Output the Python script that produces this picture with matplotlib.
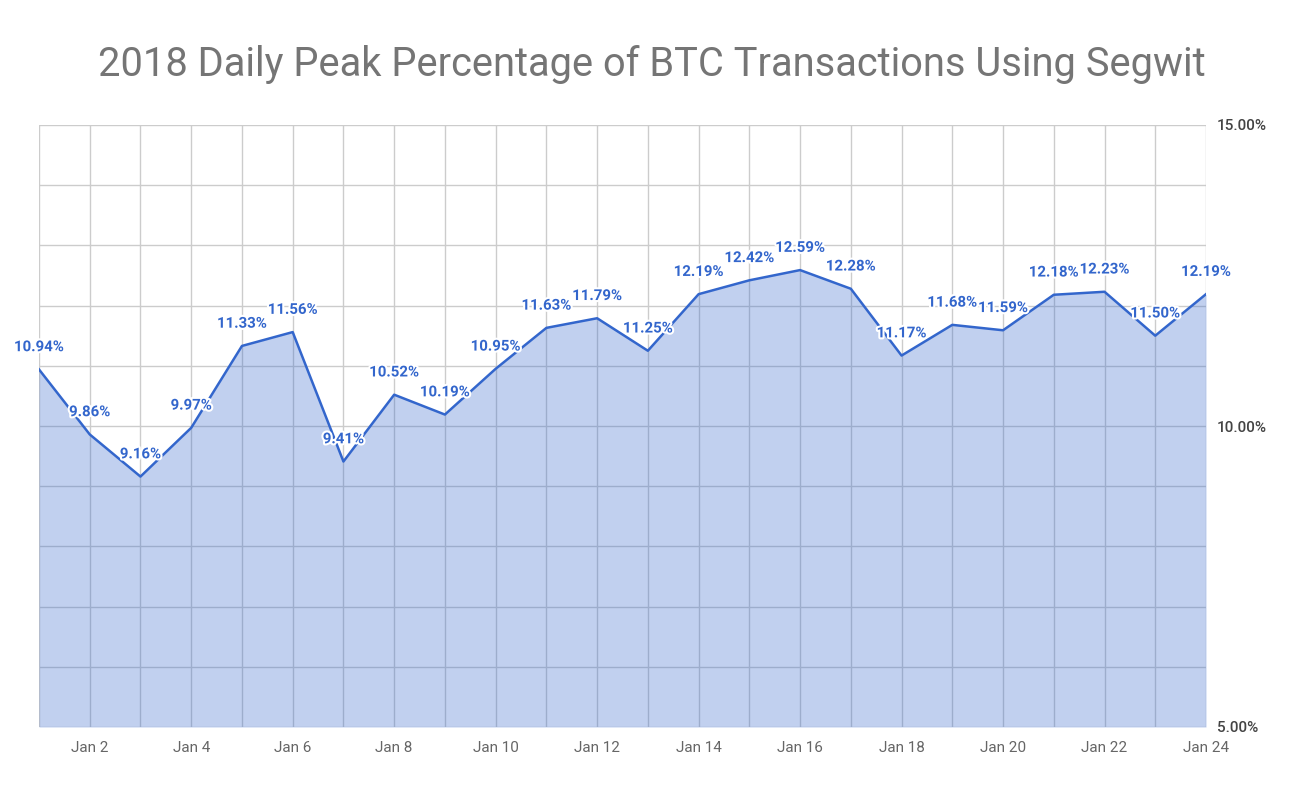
import matplotlib.pyplot as plt
from matplotlib import patheffects as pe

plt.rcParams['font.family'] = ['Roboto', 'DejaVu Sans']

# Datos: pico diario de porcentaje de transacciones Segwit, enero 2018
days = list(range(1, 25))
values = [10.94, 9.86, 9.16, 9.97, 11.33, 11.56, 9.41, 10.52, 10.19, 10.95,
          11.63, 11.79, 11.25, 12.19, 12.42, 12.59, 12.28, 11.17, 11.68, 11.59,
          12.18, 12.23, 11.50, 12.19]
tick_days = list(range(2, 25, 2))
tick_labels = [f"Jan {d}" for d in tick_days]
y_ticks = [5, 10, 15]
y_tick_labels = ["5.00%", "10.00%", "15.00%"]

line_color = '#3366cc'

fig = plt.figure(figsize=(13.04, 7.95), dpi=100)
ax = fig.add_axes([39 / 1304, 1 - 727 / 795, (1206 - 39) / 1304, (727 - 125) / 795])

ax.fill_between(days, values, 5, color=line_color, alpha=0.3, linewidth=0, zorder=2)
ax.plot(days, values, color=line_color, linewidth=1.8, zorder=3)

for d, v in zip(days, values):
    ax.annotate(f"{v:.2f}%", (d, v), xytext=(0, 16), textcoords='offset points',
                ha='center', va='center', fontsize=10.8, fontweight='bold',
                color=line_color, zorder=4,
                path_effects=[pe.withStroke(linewidth=3, foreground='white')])

ax.set_xlim(1, 24)
ax.set_ylim(5, 15)
ax.set_xticks(days, minor=True)
ax.set_xticks(tick_days)
ax.set_xticklabels(tick_labels)
ax.set_yticks(range(5, 16), minor=True)
ax.set_yticks(y_ticks)
ax.set_yticklabels(y_tick_labels)
ax.yaxis.tick_right()

ax.grid(True, which='both', color='#cccccc', linewidth=1, zorder=1)
ax.set_axisbelow(True)
for s in ax.spines.values():
    s.set_visible(False)
ax.tick_params(which='both', length=0)
ax.tick_params(axis='x', labelsize=11, labelcolor='#666666', pad=10)
ax.tick_params(axis='y', labelsize=11, labelcolor='#444444', pad=8)
for lbl in ax.get_yticklabels():
    lbl.set_fontweight('medium')

fig.text(0.5, 1 - 64 / 795, "2018 Daily Peak Percentage of BTC Transactions Using Segwit",
         ha='center', va='center', fontsize=28.7, color='#757575')

fig.savefig("out.png", dpi=100)
